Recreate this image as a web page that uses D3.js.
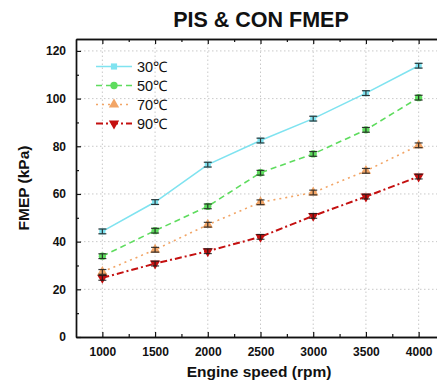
<!DOCTYPE html>
<html><head><meta charset="utf-8">
<script src="https://cdn.jsdelivr.net/npm/d3@7"></script>
<style>body{margin:0;background:#fff}svg{display:block}text{font-family:Arial,"Liberation Sans",sans-serif}</style>
</head><body><svg id="c" width="437" height="382"></svg>
<script>
const speeds = [1000,1500,2000,2500,3000,3500,4000];
const seriesNames = ["30℃","50℃","70℃","90℃"];
const fmep30 = [44.3,56.6,72.3,82.4,91.6,102.3,113.8];
const fmep50 = [33.9,44.6,54.8,68.9,76.8,86.9,100.4];
const fmep70 = [27.3,36.6,47.1,56.5,60.6,69.7,80.4];
const fmep90 = [24.8,30.8,36.0,42.0,50.8,58.9,67.3];
const errs = [1,1,1,1,1,1,1];
const xTicks = [1000,1500,2000,2500,3000,3500,4000];
const yTicks = [0,20,40,60,80,100,120];

const colors = ["#7fe3f0","#5edc5e","#f2a566","#c41010"];
const dashes = [null,"6,4","2,4","7,3,2,3"];
const shapes = [d3.symbolSquare,d3.symbolCircle,d3.symbolTriangle,d3.symbolTriangle];
const rot = [0,0,0,180];
const allData = [fmep30,fmep50,fmep70,fmep90];

const svg = d3.select("#c");
const x = d3.scaleLinear().domain([750,4250]).range([76,445]);
const y = d3.scaleLinear().domain([0,125]).range([337,39]);
const fmt = d3.format("d");

// grid
const g = svg.append("g");
g.selectAll(".gx").data(xTicks).join("line")
  .attr("x1",d=>x(d)).attr("x2",d=>x(d)).attr("y1",y(0)).attr("y2",y(125))
  .attr("stroke","#bbb").attr("stroke-width",0.8).attr("stroke-dasharray","1.5,2.5");
g.selectAll(".gy").data(yTicks.filter(d=>d>0)).join("line")
  .attr("x1",x(750)).attr("x2",x(4250)).attr("y1",d=>y(d)).attr("y2",d=>y(d))
  .attr("stroke","#bbb").attr("stroke-width",0.8).attr("stroke-dasharray","1.5,2.5");

// axes
const minorX = d3.range(1250,4250,500);
const minorY = d3.range(10,125,20);
svg.append("g").attr("transform",`translate(0,${y(0)})`)
  .call(d3.axisBottom(x).tickValues(xTicks).tickFormat(fmt).tickSizeInner(-5).tickSizeOuter(0).tickPadding(10));
svg.append("g").attr("transform",`translate(0,${y(0)})`)
  .call(d3.axisBottom(x).tickValues(minorX).tickSizeInner(-3).tickSizeOuter(0).tickFormat(""));
svg.append("g").attr("transform",`translate(0,${y(125)})`)
  .call(d3.axisTop(x).tickValues(xTicks).tickSizeInner(-5).tickSizeOuter(0).tickFormat(""));
svg.append("g").attr("transform",`translate(0,${y(125)})`)
  .call(d3.axisTop(x).tickValues(minorX).tickSizeInner(-3).tickSizeOuter(0).tickFormat(""));
svg.append("g").attr("transform",`translate(${x(750)},0)`)
  .call(d3.axisLeft(y).tickValues(yTicks).tickFormat(fmt).tickSizeInner(-5).tickSizeOuter(0).tickPadding(10));
svg.append("g").attr("transform",`translate(${x(750)},0)`)
  .call(d3.axisLeft(y).tickValues(minorY).tickSizeInner(-3).tickSizeOuter(0).tickFormat(""));
svg.selectAll(".domain").attr("stroke","#111").attr("stroke-width",1.4);
svg.selectAll(".tick line").attr("stroke","#111").attr("stroke-width",1.2);
svg.selectAll(".tick text").attr("font-size","12px").attr("font-weight","bold").attr("fill","#111")
  .attr("font-family","Arial, 'Liberation Sans', sans-serif");

// series
allData.forEach((vals,i)=>{
  const pts = speeds.map((s,j)=>({s,v:vals[j],e:errs[j]}));
  const line = d3.line().x(d=>x(d.s)).y(d=>y(d.v));
  svg.append("path").datum(pts).attr("d",line).attr("fill","none")
    .attr("stroke",colors[i]).attr("stroke-width",i===3?2:1.6)
    .attr("stroke-dasharray",dashes[i]);
  const sym = d3.symbol().type(shapes[i]).size(i===1?42:(i>=2?46:38));
  svg.append("g").selectAll("path").data(pts).join("path")
    .attr("d",sym).attr("fill",colors[i])
    .attr("transform",d=>`translate(${x(d.s)},${y(d.v)}) rotate(${rot[i]})`);
  const eb = svg.append("g").attr("stroke","#1a1a1a").attr("stroke-width",1.2).attr("opacity",0.85);
  pts.forEach(d=>{
    eb.append("line").attr("x1",x(d.s)).attr("x2",x(d.s)).attr("y1",y(d.v-d.e)).attr("y2",y(d.v+d.e));
    [d.v-d.e,d.v+d.e].forEach(v=>eb.append("line").attr("x1",x(d.s)-4).attr("x2",x(d.s)+4)
      .attr("y1",y(v)).attr("y2",y(v)));
  });
});

// legend
const lg = svg.append("g");
seriesNames.forEach((n,i)=>{
  const yy = 66.5 + i*19;
  lg.append("line").attr("x1",96).attr("x2",132).attr("y1",yy).attr("y2",yy)
    .attr("stroke",colors[i]).attr("stroke-width",i===3?2:1.6).attr("stroke-dasharray",dashes[i]);
  lg.append("path").attr("d",d3.symbol().type(shapes[i]).size(i===1?42:(i>=2?46:38)))
    .attr("fill",colors[i]).attr("transform",`translate(114,${yy}) rotate(${rot[i]})`);
  lg.append("text").attr("x",137).attr("y",yy+5).attr("font-size","14.5px").attr("fill","#111").text(n);
});

// titles
svg.append("text").attr("x",261).attr("y",27).attr("text-anchor","middle")
  .attr("font-size","21.5px").attr("font-weight","bold").attr("fill","#111").text("PIS & CON FMEP");
svg.append("text").attr("x",259).attr("y",377).attr("text-anchor","middle")
  .attr("font-size","15.5px").attr("font-weight","bold").attr("fill","#111").text("Engine speed (rpm)");
svg.append("text").attr("transform","translate(29,188) rotate(-90)").attr("text-anchor","middle")
  .attr("font-size","15.5px").attr("font-weight","bold").attr("fill","#111").text("FMEP (kPa)");
</script></body></html>
